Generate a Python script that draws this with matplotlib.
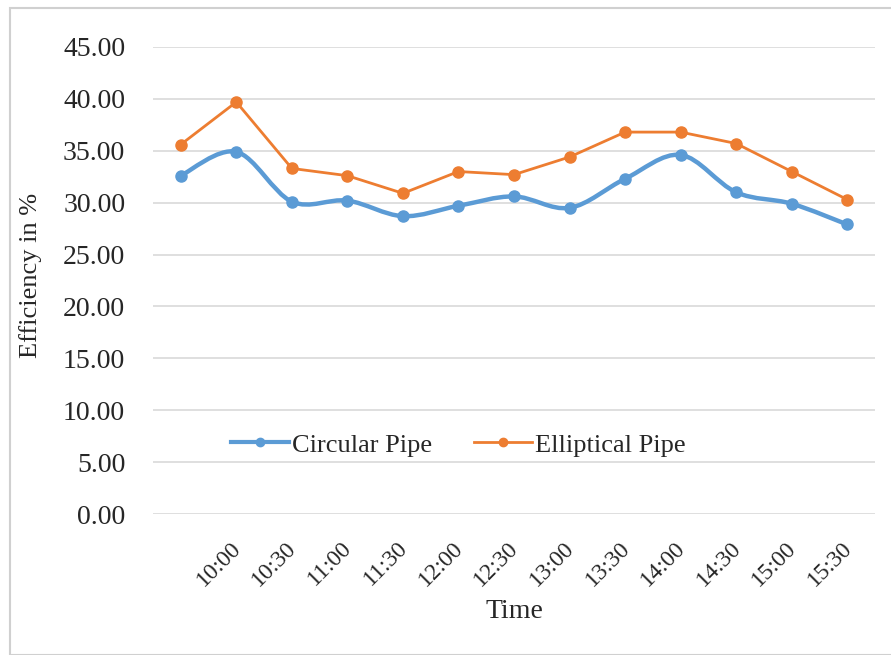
import matplotlib
matplotlib.use("Agg")
import matplotlib.pyplot as plt
import matplotlib.transforms as mtransforms
import numpy as np
from matplotlib.path import Path
from matplotlib.patches import PathPatch, Rectangle

plt.rcParams['font.family'] = ['Liberation Serif', 'DejaVu Serif']

times = ["", "10:00", "10:30", "11:00", "11:30", "12:00", "12:30",
         "13:00", "13:30", "14:00", "14:30", "15:00", "15:30"]
circular = [32.6, 34.9, 30.1, 30.2, 28.7, 29.7, 30.6, 29.5, 32.3, 34.6, 31.0, 29.9, 27.9]
elliptical = [35.6, 39.7, 33.3, 32.6, 30.9, 33.0, 32.7, 34.4, 36.8, 36.8, 35.7, 33.0, 30.3]
yticks = [0, 5, 10, 15, 20, 25, 30, 35, 40, 45]

BLUE = '#5b9bd5'
ORANGE = '#ed7d31'
TXT = '#262626'

fig = plt.figure(figsize=(8.91, 6.55), dpi=100)
fig.patches.append(Rectangle((10/891, 0), 1, 1 - 8/655, transform=fig.transFigure,
                             fill=False, edgecolor='#d0d0d0', linewidth=1.5))
ax = fig.add_axes([153/891, 1 - 514/655, 722/891, 467/655])

x = np.arange(len(times))


def smooth_path(xs, ys, t=1/6):
    xs = np.asarray(xs, float); ys = np.asarray(ys, float)
    n = len(xs)
    verts = [(xs[0], ys[0])]
    codes = [Path.MOVETO]
    for i in range(n - 1):
        p0 = (xs[max(i - 1, 0)], ys[max(i - 1, 0)])
        p1 = (xs[i], ys[i])
        p2 = (xs[i + 1], ys[i + 1])
        p3 = (xs[min(i + 2, n - 1)], ys[min(i + 2, n - 1)])
        c1 = (p1[0] + (p2[0] - p0[0]) * t, p1[1] + (p2[1] - p0[1]) * t)
        c2 = (p2[0] - (p3[0] - p1[0]) * t, p2[1] - (p3[1] - p1[1]) * t)
        verts += [c1, c2, p2]
        codes += [Path.CURVE4] * 3
    return Path(verts, codes)


ax.add_patch(PathPatch(smooth_path(x, circular), facecolor='none', edgecolor=BLUE,
                       linewidth=3.2, zorder=3))
ax.plot(x, circular, linestyle='none', marker='o', markersize=8, color=BLUE, zorder=4)
ax.plot(x, elliptical, color=ORANGE, linewidth=2, marker='o', markersize=8, zorder=4)

# legend proxies
h1, = ax.plot([], [], color=BLUE, linewidth=3, marker='o', markersize=6)
h2, = ax.plot([], [], color=ORANGE, linewidth=2, marker='o', markersize=6)
ax.legend([h1, h2], ["Circular Pipe", "Elliptical Pipe"], ncol=2, frameon=False,
          loc='center', bbox_to_anchor=(0.423, 0.148), fontsize=19,
          handlelength=2.2, handletextpad=0.1, columnspacing=1.6, labelcolor=TXT)

ax.set_xlim(-0.5, len(times) - 0.5)
ax.set_ylim(0, 45)
ax.set_yticks(yticks)
ax.set_yticklabels([f"{v:.2f}" for v in yticks], fontsize=20)
ax.set_xticks(x)
ax.set_xticklabels(times, rotation=45, ha='right', rotation_mode='anchor', fontsize=17)
ax.tick_params(axis='both', length=0, colors=TXT)
ax.tick_params(axis='y', pad=20)
ax.tick_params(axis='x', pad=17)
shift = mtransforms.ScaledTranslation(-6/100, 0, fig.dpi_scale_trans)
for lbl in ax.get_xticklabels():
    lbl.set_transform(lbl.get_transform() + shift)
ax.grid(axis='y', color='#d9d9d9', linewidth=1.2)
ax.set_axisbelow(True)
for s in ax.spines.values():
    s.set_visible(False)

fig.text(31/891, 1 - 275/655, "Efficiency in %", rotation=90, ha='center', va='center',
         fontsize=19, color=TXT)
fig.text(514/891, 1 - 611/655, "Time", ha='center', va='center', fontsize=20, color=TXT)

fig.savefig("out.png", dpi=100, facecolor='white')
